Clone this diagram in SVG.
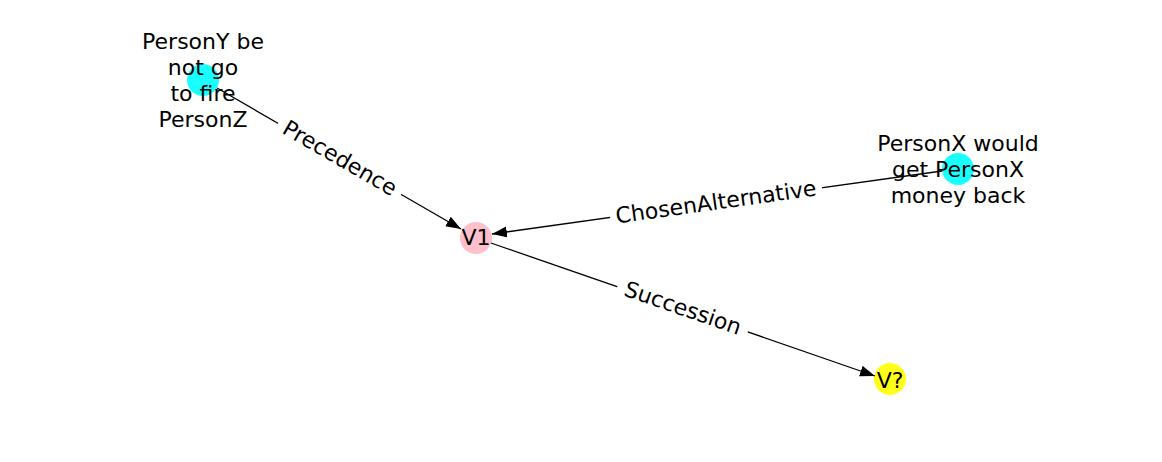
<svg xmlns="http://www.w3.org/2000/svg" width="1162" height="462" viewBox="0 0 1162 462">
<style>
.n{font-family:"DejaVu Sans",sans-serif;font-size:22px;fill:#000;text-anchor:middle;dominant-baseline:central}
.e{stroke:#000;stroke-width:1.3;fill:none}
.lb{fill:#fff}
</style>
<defs>
<marker id="ah" markerUnits="userSpaceOnUse" markerWidth="18" markerHeight="14" refX="15" refY="5.5" orient="auto">
<path d="M0,0 L15,5.5 L0,11 Z" fill="#000"/>
</marker>
</defs>
<rect width="1162" height="462" fill="#fff"/>
<g id="nodes-circles">
<circle cx="203" cy="80" r="16" fill="#00ffff" fill-opacity="0.9"/>
<circle cx="476" cy="238" r="16" fill="#ffc0cb"/>
<circle cx="958" cy="169" r="16" fill="#00ffff" fill-opacity="0.9"/>
<circle cx="890" cy="379" r="16" fill="#ffff00" fill-opacity="0.9"/>
</g>
<g id="connectors">
<line class="e" x1="217" y1="88" x2="461" y2="229" marker-end="url(#ah)"/>
<line class="e" x1="942" y1="171" x2="492" y2="234" marker-end="url(#ah)"/>
<line class="e" x1="491" y1="243" x2="875" y2="376" marker-end="url(#ah)"/>
<g transform="translate(340,158) rotate(30)">
<rect class="lb" x="-71" y="-14" width="142" height="28"/>
<text class="n" x="0" y="0">Precedence</text>
</g>
<g transform="translate(716,202) rotate(-8)">
<rect class="lb" x="-107" y="-14" width="214" height="28"/>
<text class="n" x="0" y="0">ChosenAlternative</text>
</g>
<g transform="translate(683,308) rotate(19)">
<rect class="lb" x="-69" y="-14" width="138" height="28"/>
<text class="n" x="0" y="0">Succession</text>
</g>
</g>
<g id="node-persony">
<text class="n" x="203" y="41">PersonY be</text>
<text class="n" x="203" y="67">not go</text>
<text class="n" x="203" y="93">to fire</text>
<text class="n" x="203" y="119">PersonZ</text>
</g>
<g id="node-v1">
<text class="n" x="476" y="237">V1</text>
</g>
<g id="node-personx">
<text class="n" x="958" y="143">PersonX would</text>
<text class="n" x="958" y="169">get PersonX</text>
<text class="n" x="958" y="195">money back</text>
</g>
<g id="node-vq">
<text class="n" x="890" y="380">V?</text>
</g>
</svg>
